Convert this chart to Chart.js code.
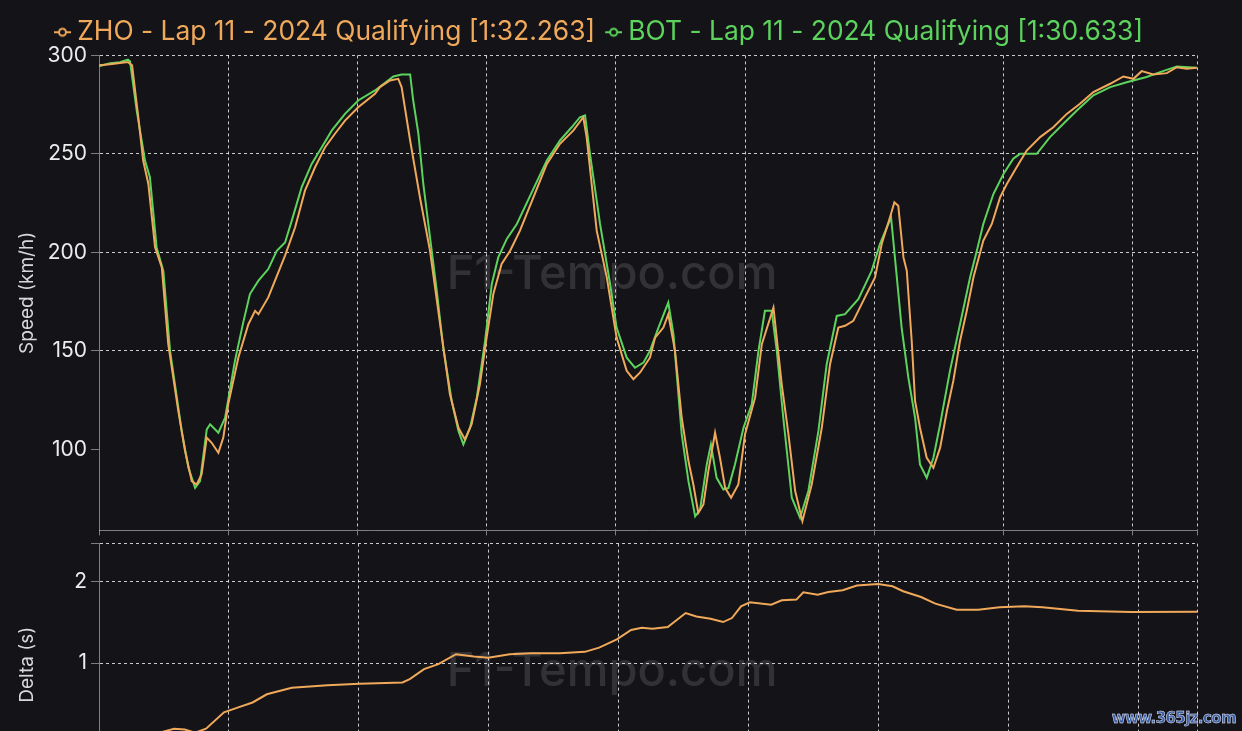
<!DOCTYPE html>
<html>
<head>
<meta charset="utf-8">
<script src="https://cdn.jsdelivr.net/npm/chart.js@4.4.1/dist/chart.umd.min.js"></script>
<style>
  html, body { margin: 0; padding: 0; background: #141318; overflow: hidden; }
  #wrap { position: relative; width: 1242px; height: 731px; overflow: hidden; background: #141318; }
  #speed { position: absolute; left: 0; top: 0; }
  #delta { position: absolute; left: 0; top: 527px; }
  #site { position: absolute; right: 6px; bottom: 4px; font: bold 15px "DejaVu Sans"; color: #3b5ea8;
          -webkit-text-stroke: 0.5px #e6ecf8; letter-spacing: -0.6px; }
</style>
</head>
<body>
<div id="wrap">
  <canvas id="speed" width="1242" height="547"></canvas>
  <canvas id="delta" width="1242" height="305"></canvas>
  <div id="site">www.365jz.com</div>
</div>
<script>
// distance in metres, speed in km/h, delta in seconds
const zhoDist = [0, 43, 112, 128, 152, 171, 191, 217, 243, 268, 307, 333, 359, 378, 397, 417, 436, 462, 481, 500,
  539, 578, 604, 617, 655, 681, 720, 759, 797, 836, 875, 913, 952, 1003, 1068, 1087, 1126, 1158, 1171, 1204,
  1242, 1281, 1320, 1358, 1391, 1416, 1442, 1474, 1500, 1526, 1558, 1591, 1629, 1681, 1733, 1784, 1836, 1874, 1887, 1926,
  1965, 2003, 2042, 2068, 2094, 2132, 2152, 2184, 2203, 2229, 2255, 2281, 2300, 2319, 2339, 2358, 2384, 2403, 2423, 2446,
  2474, 2500, 2539, 2565, 2610, 2642, 2668, 2694, 2722, 2758, 2797, 2829, 2861, 2887, 2919, 2964, 3003, 3029, 3061, 3078,
  3093, 3113, 3126, 3145, 3158, 3177, 3203, 3229, 3255, 3281, 3306, 3332, 3358, 3384, 3422, 3455, 3487, 3513, 3551, 3590,
  3642, 3693, 3745, 3796, 3848, 3913, 3964, 4003, 4035, 4080, 4132, 4171, 4209, 4248];
const zhoSpeed = [295, 295.5, 296.6, 295, 268.6, 246.6, 234.7, 202.5, 192.3, 153.4, 119.4, 99.1, 83.8, 82.1, 87.2, 105.9, 103.3, 98.2, 105.9, 122.8,
  146.5, 163.5, 170.3, 168.6, 177.1, 185.6, 198.3, 212.7, 231.3, 243.2, 253.4, 260.2, 266.9, 273.7, 280.5, 283.9, 287.3, 288.1, 283.9, 256.8,
  227.9, 200.8, 163.5, 127.9, 110.9, 105, 112.7, 133, 156.7, 178.8, 194.1, 200.8, 211, 227.9, 244.9, 255.1, 261.9, 268.6, 258.5, 211,
  187.3, 156.7, 139.8, 135.6, 139, 146.5, 156.7, 161.8, 168.6, 150, 116, 94, 82.1, 67.7, 72, 88.9, 108.4, 95.7, 80.4, 75.4,
  82.1, 107.6, 126.2, 153.4, 172, 133, 107.6, 78.8, 63.5, 82.1, 110.9, 143.2, 161.8, 162.7, 165.2, 177.1, 187.3, 204.2, 217.8, 225.4,
  223.7, 197.4, 190.6, 155, 124.5, 110.9, 95.7, 90.6, 100.8, 119.4, 134.7, 155, 170.3, 187.3, 205.9, 214.4, 227.9, 234.7, 243.2, 251.7,
  258.5, 263.5, 270.3, 275.4, 281.4, 285.6, 289.3, 288.1, 292, 290.3, 291, 294, 293.2, 293.7];

const botDist = [0, 43, 81, 112, 120, 146, 178, 197, 223, 249, 275, 320, 346, 372, 391, 417, 430, 462, 488, 526,
  558, 584, 617, 655, 688, 720, 746, 784, 823, 862, 901, 952, 1003, 1068, 1139, 1171, 1204, 1216, 1236, 1255,
  1281, 1307, 1332, 1365, 1391, 1410, 1436, 1462, 1494, 1520, 1545, 1578, 1617, 1681, 1733, 1784, 1829, 1861, 1881, 1900,
  1939, 1978, 2003, 2042, 2074, 2107, 2132, 2165, 2203, 2223, 2255, 2281, 2307, 2326, 2352, 2368, 2390, 2416, 2436, 2461,
  2494, 2526, 2552, 2577, 2603, 2623, 2648, 2681, 2713, 2745, 2784, 2816, 2855, 2887, 2939, 2990, 3022, 3065, 3080, 3106,
  3132, 3158, 3177, 3203, 3229, 3255, 3293, 3332, 3371, 3397, 3422, 3461, 3500, 3538, 3564, 3629, 3680, 3732, 3784, 3848,
  3913, 3977, 4054, 4106, 4171, 4248];
const botSpeed = [294.5, 296, 296.5, 297.8, 297, 272, 246.6, 238.1, 202.5, 190.6, 150, 109.3, 90.6, 80.4, 83.8, 110.1, 112.7, 108.4, 116, 144.9,
  164.3, 178.8, 185.6, 191.5, 200.8, 205, 216.1, 233, 244.9, 253.4, 261.9, 270.3, 277.1, 282.2, 289.3, 290.3, 290.3, 277.1, 260.2, 234.7,
  207.6, 180.5, 151.7, 124.5, 109.3, 102.5, 111, 126.2, 155, 183.9, 197.4, 206.8, 214.4, 232.2, 246.6, 256.8, 263.5, 268.6, 269.5, 250,
  214.4, 183.9, 161.8, 146.5, 141.4, 144, 150, 161.8, 174.5, 158.5, 107.6, 83.8, 66, 69.4, 92.3, 102.5, 85.5, 79.6, 80.4, 92.3,
  110.9, 122.8, 150, 170.3, 170.3, 150, 116, 75.4, 65.2, 78.8, 109.3, 143.2, 167.7, 168.6, 176.3, 190.6, 204.2, 217.8, 197.4, 161.8,
  136.4, 116, 92.3, 85.5, 95.7, 112.7, 139.8, 163.5, 187.3, 200.8, 214.4, 229.6, 239.8, 247.5, 250, 250, 258.5, 265.3, 272, 279.7,
  283.9, 286.4, 289, 291.5, 294.4, 293.7];

const deltaDist = [0, 81, 196, 254, 289, 330, 370, 412, 481, 536, 591, 646, 742, 880, 1003, 1168, 1196, 1251, 1306, 1374,
  1443, 1498, 1581, 1663, 1773, 1870, 1925, 1993, 2048, 2089, 2130, 2189, 2258, 2299, 2354, 2402, 2436, 2471, 2505, 2587,
  2628, 2684, 2711, 2766, 2807, 2862, 2917, 2999, 3054, 3095, 3164, 3219, 3301, 3384, 3466, 3562, 3631, 3768, 3974, 4226];
const deltaTime = [0, 0.05, 0.12, 0.17, 0.2, 0.19, 0.15, 0.2, 0.4, 0.46, 0.52, 0.62, 0.7, 0.73, 0.75, 0.765, 0.806, 0.927, 0.988, 1.109,
  1.081, 1.065, 1.109, 1.121, 1.121, 1.138, 1.19, 1.29, 1.405, 1.433, 1.421, 1.441, 1.612, 1.571, 1.543, 1.502, 1.551, 1.694, 1.743, 1.714,
  1.767, 1.776, 1.865, 1.837, 1.869, 1.89, 1.947, 1.967, 1.939, 1.878, 1.808, 1.727, 1.653, 1.653, 1.682, 1.694, 1.682, 1.641, 1.624, 1.629];

const zhoLabel = 'ZHO - Lap 11 - 2024 Qualifying [1:32.263]';
const botLabel = 'BOT - Lap 11 - 2024 Qualifying [1:30.633]';
const speedTicks = [100, 150, 200, 250, 300];
const deltaTicks = [0, 1, 2];
const distTicks = [0, 500, 1000, 1500, 2000, 2500, 3000, 3500, 4000];

const ZHO_COL = '#f0a95a';
const BOT_COL = '#5cd35c';
const BG = '#141318';
const FONT = 'Inter, "Noto Sans", sans-serif';

const pts = (xs, ys) => xs.map((x, i) => ({ x: x, y: ys[i] }));

// "-o-" legend marker, drawn a bit right of its box so the gap to the text stays small
function marker(color) {
  const c = document.createElement('canvas');
  c.width = 24; c.height = 12;
  const g = c.getContext('2d');
  g.strokeStyle = color; g.lineWidth = 2;
  g.beginPath(); g.moveTo(7, 6); g.lineTo(24, 6); g.stroke();
  g.beginPath(); g.arc(15.5, 6, 3.5, 0, Math.PI * 2);
  g.fillStyle = BG; g.fill(); g.stroke();
  return c;
}

function watermark(cx, cy) {
  return {
    id: 'watermark',
    beforeDatasetsDraw(chart) {
      const ctx = chart.ctx;
      ctx.save();
      ctx.font = '500 47px ' + FONT;
      ctx.fillStyle = 'rgba(255,255,255,0.13)';
      ctx.textAlign = 'center';
      ctx.textBaseline = 'middle';
      ctx.fillText('F1-Tempo.com', cx, cy);
      ctx.restore();
    }
  };
}

const gridCol = ctx => ctx.index === 0 ? 'rgba(0,0,0,0)' : 'rgba(255,255,255,0.78)';
const tickCol = 'rgba(255,255,255,0.45)';

function xScale(maxDist, showLabels, h) {
  return {
    type: 'linear',
    min: 0,
    max: maxDist,
    afterBuildTicks: s => { s.ticks = distTicks.concat([maxDist]).map(v => ({ value: v })); },
    ticks: { display: showLabels, color: '#e6e6e6', font: { size: 21, family: FONT } },
    grid: { color: gridCol, tickColor: tickCol, tickLength: 5 },
    border: { dash: [3, 3], color: 'rgba(255,255,255,0.45)' },
    afterFit: s => { s.height = h; }
  };
}

function yScale(min, max, list, title) {
  return {
    min: min,
    max: max,
    afterBuildTicks: s => { s.ticks = [min].concat(list, max > list[list.length - 1] ? [max] : []).map(v => ({ value: v })); },
    ticks: {
      color: '#ececec',
      padding: 4,
      font: { size: 21, family: FONT },
      callback: v => list.includes(v) ? String(v) : (v === min ? null : '')
    },
    grid: { color: gridCol, tickColor: tickCol, tickLength: 8 },
    border: { dash: [3, 3], color: 'rgba(255,255,255,0.45)' },
    title: { display: true, text: title, color: '#d8d8d8', font: { size: 19, family: FONT }, padding: { top: 16, bottom: 0 } },
    afterFit: s => { s.width = 99; }
  };
}

new Chart(document.getElementById('speed'), {
  type: 'line',
  data: {
    datasets: [
      { label: zhoLabel, data: pts(zhoDist, zhoSpeed), borderColor: ZHO_COL, backgroundColor: ZHO_COL, borderWidth: 2, pointRadius: 0, tension: 0 },
      { label: botLabel, data: pts(botDist, botSpeed), borderColor: BOT_COL, backgroundColor: BOT_COL, borderWidth: 2, pointRadius: 0, tension: 0 }
    ]
  },
  options: {
    responsive: false,
    animation: false,
    layout: { padding: { top: 9, right: 45, left: 0, bottom: 0 } },
    scales: {
      x: xScale(4249, false, 11),
      y: yScale(58.8, 300, speedTicks, 'Speed (km/h)')
    },
    plugins: {
      tooltip: { enabled: false },
      legend: {
        position: 'top',
        labels: {
          usePointStyle: true,
          pointStyleWidth: 10,
          padding: 10,
          font: { size: 26.4, family: FONT },
          generateLabels: chart => chart.data.datasets.map((d, i) => ({
            text: d.label,
            fontColor: d.borderColor,
            fillStyle: d.borderColor,
            strokeStyle: d.borderColor,
            lineWidth: 0,
            pointStyle: marker(d.borderColor),
            hidden: false,
            datasetIndex: i
          }))
        }
      }
    }
  },
  plugins: [watermark(612, 275)]
});

new Chart(document.getElementById('delta'), {
  type: 'line',
  data: {
    datasets: [
      { label: 'Delta', data: pts(deltaDist, deltaTime), borderColor: ZHO_COL, borderWidth: 2, pointRadius: 0, tension: 0 }
    ]
  },
  options: {
    responsive: false,
    animation: false,
    layout: { padding: { top: 10, right: 45, left: 0, bottom: 0 } },
    scales: {
      x: xScale(4226, true, 46),
      y: yScale(-0.5, 2.46, deltaTicks, 'Delta (s)')
    },
    plugins: { legend: { display: false }, tooltip: { enabled: false } }
  },
  plugins: [watermark(612, 145)]
});
</script>
</body>
</html>
